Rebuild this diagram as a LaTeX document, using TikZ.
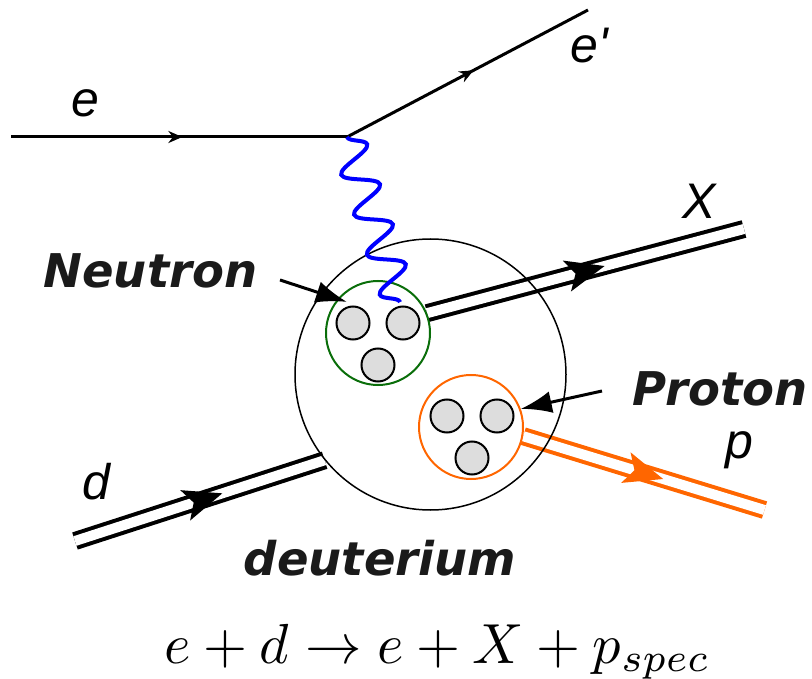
\documentclass[tikz,border=0pt]{standalone}
\usepackage{fontspec}
\newfontfamily\lblfont{Liberation Sans}
\newfontfamily\tagfont{DejaVu Sans}
\usetikzlibrary{arrows.meta, calc, backgrounds, decorations.pathmorphing, decorations.markings}

\definecolor{photonblue}{RGB}{0,0,255}
\definecolor{neutgreen}{RGB}{10,110,10}
\definecolor{protorange}{RGB}{255,102,0}
\definecolor{ballgray}{RGB}{221,221,221}
\definecolor{tagtext}{RGB}{26,26,26}

\tikzset{
  fermion/.style={line width=3pt, postaction={decorate},
    decoration={markings, mark=at position #1 with {\arrow{Stealth[length=14pt,width=12pt]}}}},
  dblline/.style={double, line width=4pt, double distance=10pt, postaction={decorate},
    decoration={markings, mark=at position #1 with {\fill (0,0) -- (-39,16) -- (-30,0) -- (-39,-16) -- cycle;}}},
  photon/.style={photonblue, line width=4pt, decorate,
    decoration={snake, segment length=42pt, amplitude=17pt}},
  ball/.style={circle, draw, line width=2pt, fill=ballgray, minimum size=33pt, inner sep=0pt},
  nucleon/.style={circle, draw, line width=2pt, minimum size=104pt, inner sep=0pt},
  pointer/.style={-{Latex[length=31pt,width=22pt]}, line width=3pt},
  lbl/.style={font=\lblfont\itshape\fontsize{50}{60}\selectfont},
  tag/.style={font=\tagfont\bfseries\itshape\fontsize{46.5}{56}\selectfont, text=tagtext}
}

\begin{document}
\begin{tikzpicture}[x=1pt, y=-1pt]
    \useasboundingbox (0,0) rectangle (812,679);

    % Deuterium and its two nucleons
    \node[circle, draw, line width=1.5pt, minimum size=271pt, inner sep=0pt] (deut) at (430.5,374.5) {};
    \node[nucleon, neutgreen] (neut) at (378,333) {};
    \node[nucleon, protorange] (prot) at (471,427) {};

    % Quarks
    \node[ball] (nq1) at (353,323) {};
    \node[ball] (nq2) at (403,323) {};
    \node[ball] (nq3) at (378,365) {};
    \node[ball] (pq1) at (447,416) {};
    \node[ball] (pq2) at (497,416) {};
    \node[ball] (pq3) at (472,458) {};

    % Electron lines
    \coordinate (ein) at (11,137);
    \coordinate (vtx) at (347,137);
    \coordinate (eout) at (588,10);
    \draw[fermion=0.51] (ein) -- (vtx);
    \draw[fermion=0.525] (vtx) -- (eout);

    % Virtual photon
    \coordinate (phend) at (400,302);
    \draw[photon] (vtx) -- (phend);

    % Hadron lines
    \coordinate (din) at (75,541);
    \coordinate (xout) at (744,229);
    \coordinate (pout) at (764.5,510);
    \begin{pgfonlayer}{background}
    \draw[dblline=0.59] (din) -- (deut.-141);
    \draw[dblline=0.56] (neut.22) -- (xout);
    \draw[dblline=0.58, protorange] (prot.-10) -- (pout);
    \end{pgfonlayer}

    % Labels
    \node[lbl, anchor=base west] (le) at (68,117) {e};
    \node[lbl, anchor=base west] (leprime) at (567,63) {e\textquotesingle};
    \node[lbl, anchor=base west] (lx) at (679,219) {X};
    \node[lbl, anchor=base west] (lp) at (722,458) {p};
    \node[lbl, anchor=base west] (ld) at (79,499) {d};

    \node[tag, anchor=base west] (ntag) at (40,288) {Neutron};
    \node[tag, anchor=base west] (ptag) at (629,405) {Proton};
    \node[tag, anchor=base] (dtag) at (380,575) {deuterium};

    \coordinate (ntail) at (280,280);
    \coordinate (ptail) at (602,391);
    \draw[pointer] (ntail) -- ($(neut.center)!0.83!(neut.135)$);
    \draw[pointer] (ptail) -- (prot.20);

    \node[anchor=base, scale=5.65, inner sep=0pt] (reac) at (437.5,663) {$e+d\rightarrow e+X+p_{spec}$};
\end{tikzpicture}
\end{document}
